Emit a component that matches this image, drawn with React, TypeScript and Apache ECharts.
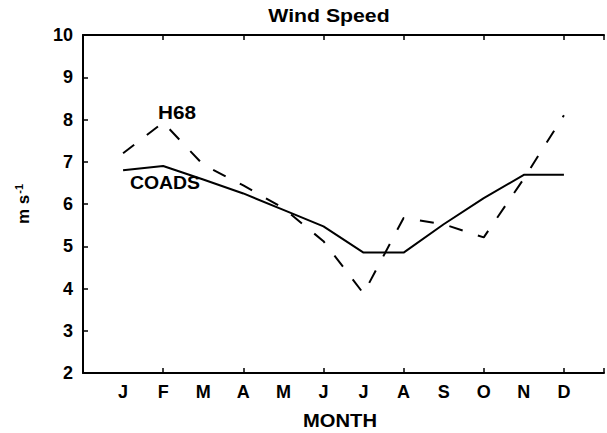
import React, { useEffect, useRef } from "react";
import * as echarts from "echarts";

const months = ["J", "F", "M", "A", "M", "J", "J", "A", "S", "O", "N", "D"];
const coads = [6.8, 6.9, 6.58, 6.25, 5.86, 5.47, 4.85, 4.85, 5.52, 6.14, 6.69, 6.69];
const h68 = [7.2, 7.93, 6.93, 6.44, 5.9, 5.12, 3.88, 5.67, 5.52, 5.21, 6.6, 8.1];
const yMin = 2;
const yMax = 10;

const FONT = "'Liberation Sans', Arial, Helvetica, sans-serif";

export default function App() {
  const ref = useRef<HTMLDivElement>(null);
  useEffect(() => {
    if (!ref.current) return;
    const chart = echarts.init(ref.current, undefined, { renderer: "svg" });
    const black = "#000";
    const txt = (text: string, x: number, y: number, size: number, sx: number) => ({
      type: "text",
      x,
      y,
      scaleX: sx,
      style: {
        text,
        fontSize: size,
        fontWeight: "bold",
        fontFamily: FONT,
        fill: black,
        textAlign: "center",
        textVerticalAlign: "middle",
      },
    });
    chart.setOption({
      animation: false,
      backgroundColor: "#fff",
      textStyle: { fontFamily: FONT, color: black },
      grid: { left: 83, top: 35, bottom: 60, width: 537 },
      xAxis: [
        {
          type: "value",
          min: 0,
          max: 13,
          interval: 1,
          position: "bottom",
          axisLine: { show: true, lineStyle: { color: black, width: 2 } },
          axisTick: { show: false },
          splitLine: { show: false },
          axisLabel: {
            formatter: (v: number) => months[v - 1] ?? "",
            color: black,
            fontSize: 18,
            fontWeight: "bold",
            fontFamily: FONT,
            margin: 10,
          },
        },
        {
          type: "value",
          min: 0,
          max: 13,
          interval: 2,
          position: "bottom",
          axisLine: { show: false },
          axisTick: { show: true, inside: true, length: 5, lineStyle: { color: black, width: 1.5 } },
          axisLabel: { show: false },
          splitLine: { show: false },
        },
        {
          type: "value",
          min: 0,
          max: 13,
          interval: 2,
          position: "top",
          axisLine: { show: true, lineStyle: { color: black, width: 2 } },
          axisTick: { show: true, inside: true, length: 5, lineStyle: { color: black, width: 1.5 } },
          axisLabel: { show: false },
          splitLine: { show: false },
        },
      ],
      yAxis: {
        type: "value",
        min: yMin,
        max: yMax,
        interval: 1,
        axisLine: { show: true, lineStyle: { color: black, width: 2 } },
        axisTick: { show: true, inside: true, length: 5, lineStyle: { color: black, width: 1.5 } },
        splitLine: { show: false },
        axisLabel: { color: black, fontSize: 18, fontWeight: "bold", fontFamily: FONT, margin: 10 },
        name: "{a|m s}{b|-1}",
        nameLocation: "middle",
        nameRotate: 90,
        nameGap: 50,
        nameTextStyle: {
          rich: {
            a: { fontSize: 17, fontWeight: "bold", fontFamily: FONT, color: black },
            b: { fontSize: 11, fontWeight: "bold", fontFamily: FONT, color: black, padding: [0, 0, 9, 1] },
          },
        },
      },
      series: [
        {
          name: "COADS",
          type: "line",
          xAxisIndex: 0,
          symbol: "none",
          lineStyle: { color: black, width: 2, type: "solid" },
          data: months.map((_, i) => [i + 1, coads[i]]),
        },
        {
          name: "H68",
          type: "line",
          xAxisIndex: 0,
          symbol: "none",
          lineStyle: { color: black, width: 2, type: [14, 16] },
          data: months.map((_, i) => [i + 1, h68[i]]),
        },
      ],
      graphic: [
        txt("Wind Speed", 329, 16, 18, 1.18),
        txt("MONTH", 340, 421, 18, 1.12),
        txt("H68", 177, 113, 18, 1.15),
        txt("COADS", 165, 183, 18, 1.08),
      ],
    });
    return () => chart.dispose();
  }, []);
  return (
    <div
      ref={ref}
      style={{ position: "fixed", left: 0, top: 0, width: 607, height: 433 }}
    />
  );
}
